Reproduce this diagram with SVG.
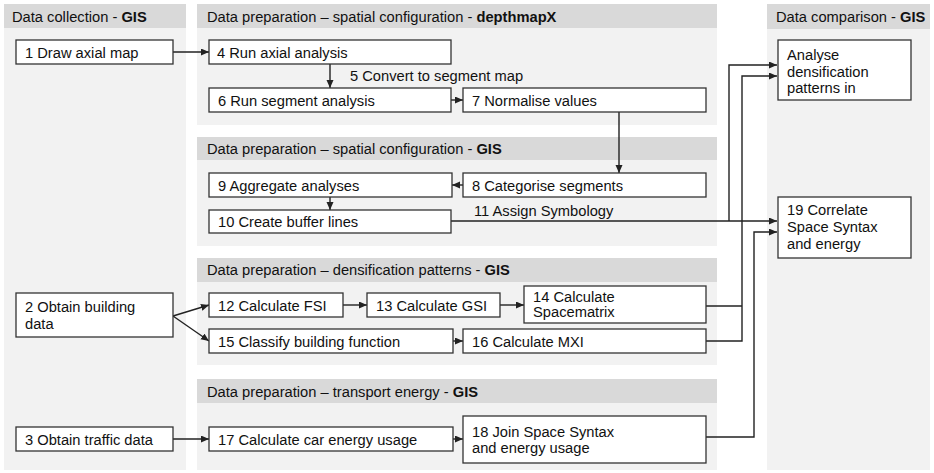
<svg xmlns="http://www.w3.org/2000/svg" width="934" height="473" viewBox="0 0 934 473">
<style>
text{font-family:"Liberation Sans",Arial,sans-serif;font-size:14.7px;fill:#111}
.b{font-weight:bold}
.hdr{fill:#d9d9d9}
.body{fill:#f2f2f2}
.box{fill:#fff;stroke:#333;stroke-width:1.3}
.ln{fill:none;stroke:#222;stroke-width:1.4}
.ar{fill:none;stroke:#222;stroke-width:1.4;marker-end:url(#ah)}
</style>
<defs>
<marker id="ah" markerUnits="userSpaceOnUse" markerWidth="9" markerHeight="8" refX="8" refY="3.5" orient="auto">
<path d="M0,0 L8,3.5 L0,7 z" fill="#222"/>
</marker>
</defs>
<rect width="934" height="473" fill="#fff"/>
<g id="panels">
<rect class="body" x="4" y="4" width="182" height="466"/>
<rect class="hdr" x="4" y="4" width="182" height="24"/>
<text x="12" y="21.5">Data collection - <tspan class="b">GIS</tspan></text>
<rect class="body" x="197" y="4" width="520" height="121"/>
<rect class="hdr" x="197" y="4" width="520" height="24"/>
<text x="207" y="21.5">Data preparation – spatial configuration - <tspan class="b">depthmapX</tspan></text>
<rect class="body" x="197" y="137" width="520" height="109"/>
<rect class="hdr" x="197" y="137" width="520" height="23"/>
<text x="207" y="154">Data preparation – spatial configuration - <tspan class="b">GIS</tspan></text>
<rect class="body" x="197" y="258" width="520" height="107"/>
<rect class="hdr" x="197" y="258" width="520" height="24"/>
<text x="207" y="275">Data preparation – densification patterns - <tspan class="b">GIS</tspan></text>
<rect class="body" x="197" y="379" width="520" height="91"/>
<rect class="hdr" x="197" y="379" width="520" height="24"/>
<text x="207" y="396.5">Data preparation – transport energy - <tspan class="b">GIS</tspan></text>
<rect class="body" x="767" y="4" width="163" height="466"/>
<rect class="hdr" x="767" y="4" width="163" height="25"/>
<text x="776" y="22">Data comparison - <tspan class="b">GIS</tspan></text>
</g>
<g id="connectors">
<line class="ar" x1="173" y1="52" x2="209" y2="52"/>
<line class="ar" x1="330" y1="64" x2="330" y2="88"/>
<line class="ar" x1="451" y1="100" x2="463" y2="100"/>
<polyline class="ar" points="619,112 619,173"/>
<line class="ar" x1="463" y1="185" x2="452" y2="185"/>
<line class="ar" x1="330" y1="197" x2="330" y2="210"/>
<line class="ar" x1="451" y1="221" x2="777" y2="221"/>
<polyline class="ar" points="729,221 729,65 777,65"/>
<line class="ln" x1="706" y1="306" x2="742" y2="306"/>
<polyline class="ar" points="706,341 742,341 742,76 777,76"/>
<polyline class="ar" points="706,437 754,437 754,232 777,232"/>
<line class="ar" x1="173" y1="316" x2="209" y2="305"/>
<line class="ar" x1="173" y1="316" x2="209" y2="341"/>
<line class="ar" x1="343" y1="305" x2="367" y2="305"/>
<line class="ar" x1="500" y1="305" x2="524" y2="305"/>
<line class="ar" x1="453" y1="341" x2="463" y2="341"/>
<line class="ar" x1="173" y1="439" x2="209" y2="439"/>
<line class="ar" x1="453" y1="439" x2="463" y2="439"/>
<text x="350" y="81">5 Convert to segment map</text>
<text x="474" y="215.5">11 Assign Symbology</text>
</g>
<g id="n1"><rect class="box" x="16" y="40" width="157" height="24"/><text x="25" y="57.5">1 Draw axial map</text></g>
<g id="n2"><rect class="box" x="16" y="293" width="157" height="44"/><text x="25" y="311.5">2 Obtain building</text><text x="25" y="328.5">data</text></g>
<g id="n3"><rect class="box" x="16" y="427" width="157" height="24"/><text x="25" y="444.5">3 Obtain traffic data</text></g>
<g id="n4"><rect class="box" x="209" y="40" width="242" height="24"/><text x="217" y="57.5">4 Run axial analysis</text></g>
<g id="n6"><rect class="box" x="209" y="88" width="242" height="24"/><text x="218" y="105.5">6 Run segment analysis</text></g>
<g id="n7"><rect class="box" x="463" y="88" width="243" height="24"/><text x="472" y="105.5">7 Normalise values</text></g>
<g id="n8"><rect class="box" x="463" y="173" width="243" height="24"/><text x="472" y="190.5">8 Categorise segments</text></g>
<g id="n9"><rect class="box" x="209" y="173" width="243" height="24"/><text x="218" y="190.5">9 Aggregate analyses</text></g>
<g id="n10"><rect class="box" x="209" y="210" width="242" height="23"/><text x="218" y="227">10 Create buffer lines</text></g>
<g id="n12"><rect class="box" x="209" y="293" width="134" height="24"/><text x="218" y="310.5">12 Calculate FSI</text></g>
<g id="n13"><rect class="box" x="367" y="293" width="133" height="24"/><text x="376" y="310.5">13 Calculate GSI</text></g>
<g id="n14"><rect class="box" x="524" y="286" width="182" height="37"/><text x="533" y="301.5">14 Calculate</text><text x="533" y="317">Spacematrix</text></g>
<g id="n15"><rect class="box" x="209" y="329" width="244" height="24"/><text x="218" y="346.5">15 Classify building function</text></g>
<g id="n16"><rect class="box" x="463" y="329" width="243" height="24"/><text x="472" y="346.5">16 Calculate MXI</text></g>
<g id="n17"><rect class="box" x="209" y="427" width="244" height="24"/><text x="218" y="444.5">17 Calculate car energy usage</text></g>
<g id="n18"><rect class="box" x="463" y="416" width="243" height="47"/><text x="472" y="436.5">18 Join Space Syntax</text><text x="472" y="452.5">and energy usage</text></g>
<g id="nA"><rect class="box" x="778" y="40" width="133" height="60"/><text x="787" y="60">Analyse</text><text x="787" y="76.5">densification</text><text x="787" y="93">patterns in</text></g>
<g id="n19"><rect class="box" x="778" y="197" width="133" height="61"/><text x="787" y="215">19 Correlate</text><text x="787" y="232">Space Syntax</text><text x="787" y="249">and energy</text></g>
</svg>
